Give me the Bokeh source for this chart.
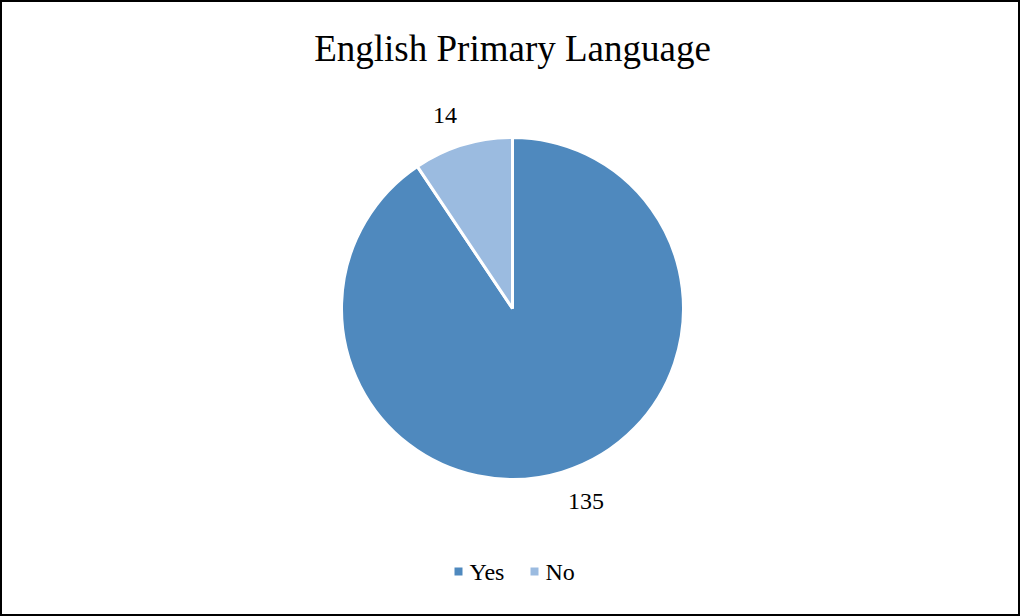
import math
from bokeh.plotting import figure
from bokeh.models import Range1d, ColumnDataSource
from bokeh.core.properties import value
from bokeh.embed import file_html
from bokeh.resources import INLINE

categories = ["Yes", "No"]
counts = [135, 14]
colors = ["#4F89BE", "#9BBBE0"]
title_text = "English Primary Language"

W, H = 1020, 616
FONT = "Liberation Serif"

p = figure(width=W, height=H, output_backend="svg", toolbar_location=None,
           x_range=Range1d(0, W), y_range=Range1d(0, H), min_border=0,
           outline_line_color="black", outline_line_width=3)
p.axis.visible = False
p.grid.visible = False
p.background_fill_color = "white"
p.border_fill_color = "white"

cx, cy, r = 512, 308, 171
total = sum(counts)
starts, ends, mids = [], [], []
a = math.pi / 2
for c in counts:
    sweep = c / total * 2 * math.pi
    starts.append(a)
    ends.append(a - sweep)
    mids.append(a - sweep / 2)
    a -= sweep

src = ColumnDataSource(dict(start=starts, end=ends, color=colors, cat=categories))
p.wedge(x=cx, y=cy, radius=r, start_angle="start", end_angle="end",
        direction="clock", fill_color="color", line_color="white",
        line_width=3, source=src)

# data labels outside end
lx, ly, labs = [], [], []
gap = 20
hw, hh = 12, 10
for m, c in zip(mids, counts):
    dx, dy = math.cos(m), math.sin(m)
    x = cx + (r + gap) * dx + hw * (1 if dx >= 0 else -1) * len(str(c)) / 2
    y = cy + (r + gap) * dy + hh * (1 if dy >= 0 else -1)
    lx.append(x); ly.append(y); labs.append(str(c))
p.text(x=lx, y=ly, text=labs, text_font=value(FONT), text_font_size="24px",
       text_align="center", text_baseline="middle", text_color="black")

# title
p.text(x=[cx], y=[H - 48], text=[title_text], text_font=value(FONT),
       text_font_size="37px", text_align="center", text_baseline="middle",
       text_color="black")

# legend
leg_y = H - 571
sq_x = [458, 534]
p.scatter(x=sq_x, y=[leg_y] * 2, marker="square", size=8,
          fill_color=colors, line_color=None)
p.text(x=[x + 11 for x in sq_x], y=[leg_y] * 2, text=categories,
       text_font=value(FONT), text_font_size="24px", text_align="left",
       text_baseline="middle", text_color="black")

open("out.html", "w").write(file_html(p, INLINE))
